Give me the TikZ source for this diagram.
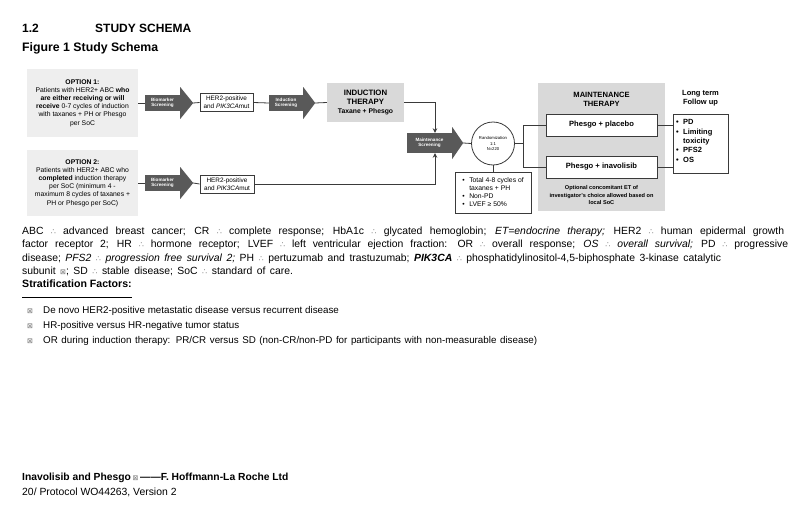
\documentclass[tikz,border=0pt]{standalone}
\usepackage{fontspec}
\setmainfont{Liberation Sans}
\newfontfamily\symf{DejaVu Sans}
\usetikzlibrary{calc,arrows.meta}
\definecolor{arrowgray}{HTML}{595959}
\definecolor{optgray}{HTML}{EEEEEE}
\definecolor{thergray}{HTML}{D9D9D9}
\definecolor{linegray}{HTML}{3A3A3A}
\newcommand{\eqs}{{\symf\fontsize{8}{8}\selectfont\textcolor{gray}{∴}}}
\newcommand{\bxg}{{\symf\fontsize{7}{8}\selectfont\textcolor{gray!90!black}{⊠}}}
\newcommand{\bul}{\makebox[7pt][l]{\textbullet}}
\newcommand{\bodyfnt}{\fontsize{10.4}{12}\selectfont\spaceskip 4.5pt plus 3pt minus 1pt\relax}
\tikzset{
  txt/.style={inner sep=0pt, anchor=base west},
  optbox/.style={fill=optgray, draw=none, align=center, inner sep=0pt,
     font=\fontsize{6.8}{8.2}\selectfont},
  arrbody/.style={fill=arrowgray, draw=none, text=white, align=center, inner sep=0pt,
     font=\bfseries\fontsize{4.6}{5.6}\selectfont},
  wbox/.style={fill=white, draw=linegray, line width=0.8pt, align=center, inner sep=0pt},
  conn/.style={draw=linegray, line width=0.8pt},
  tip/.style={-{Stealth[length=4.5pt,width=4.5pt]}},
  bodytxt/.style={txt, font=\bodyfnt}
}
\begin{document}
\begin{tikzpicture}[x=1pt,y=-1pt]
\useasboundingbox[fill=white] (0,0) rectangle (800,511);

% headings
\node[txt, font=\bfseries\fontsize{12}{14}\selectfont] (h1) at (22,33) {1.2};
\node[txt, font=\bfseries\fontsize{12}{14}\selectfont] (h2) at (95,33) {STUDY SCHEMA};
\node[txt, font=\bfseries\fontsize{12.3}{14}\selectfont] (h3) at (22,52) {Figure 1 Study Schema};

% option boxes
\node[optbox, minimum width=111, minimum height=68] (opt1) at (82.5,103)
  {\textbf{OPTION 1:}\\Patients with HER2+ ABC \textbf{who}\\\textbf{are either receiving or will}\\\textbf{receive} 0-7 cycles of induction\\with taxanes + PH or Phesgo\\per SoC};
\node[optbox, minimum width=111, minimum height=66] (opt2) at (82.5,183)
  {\textbf{OPTION 2:}\\Patients with HER2+ ABC who\\\textbf{completed} induction therapy\\per SoC (minimum 4 -\\maximum 8 cycles of taxanes +\\PH or Phesgo per SoC)};

% biomarker arrows
\node[arrbody, minimum width=35, minimum height=16] (bio1) at (162.5,103) {Biomarker\\Screening};
\fill[arrowgray] ($(bio1.east)+(0,-16)$) -- ($(bio1.east)+(13,0)$) -- ($(bio1.east)+(0,16)$) -- cycle;
\coordinate (bio1tip) at ($(bio1.east)+(13,0)$);
\node[arrbody, minimum width=35, minimum height=16] (bio2) at (162.5,183) {Biomarker\\Screening};
\fill[arrowgray] ($(bio2.east)+(0,-16)$) -- ($(bio2.east)+(13,0)$) -- ($(bio2.east)+(0,16)$) -- cycle;
\coordinate (bio2tip) at ($(bio2.east)+(13,0)$);

% HER2 boxes
\node[wbox, minimum width=53, minimum height=18, font=\fontsize{6.4}{7.6}\selectfont] (her1) at (226.5,102.5)
  {HER2-positive\\and \textit{PIK3CA}mut};
\node[wbox, minimum width=54, minimum height=18, font=\fontsize{6.4}{7.6}\selectfont] (her2) at (227,184)
  {HER2-positive\\and \textit{PIK3CA}mut};

% induction screening arrow
\node[arrbody, minimum width=34, minimum height=16] (isc) at (286,103) {Induction\\Screening};
\fill[arrowgray] ($(isc.east)+(0,-16)$) -- ($(isc.east)+(12,0)$) -- ($(isc.east)+(0,16)$) -- cycle;
\coordinate (isctip) at ($(isc.east)+(12,0)$);

% induction therapy
\node[fill=thergray, minimum width=77, minimum height=39, inner sep=0pt, align=center,
  font=\bfseries\fontsize{7.8}{9}\selectfont] (ind) at (365.5,102.5)
  {INDUCTION\\THERAPY\\\fontsize{6.8}{9}\selectfont Taxane + Phesgo};

% maintenance screening arrow
\node[arrbody, minimum width=45, minimum height=20] (msc) at (429.5,143) {Maintenance\\Screening};
\fill[arrowgray] ($(msc.east)+(0,-16)$) -- ($(msc.east)+(11,0)$) -- ($(msc.east)+(0,16)$) -- cycle;
\coordinate (msctip) at ($(msc.east)+(11,0)$);

% randomization
\node[circle, draw=linegray, line width=0.8pt, fill=white, minimum size=43, inner sep=0pt, align=center,
  font=\fontsize{4.2}{5.2}\selectfont] (rnd) at (493,143.5) {Randomization\\1:1\\N=220};

% criteria box
\node[wbox, minimum width=76, minimum height=41, align=left, font=\fontsize{6.8}{8}\selectfont] (crit) at (493,192.5)
  {\bul Total 4-8 cycles of\\\hspace*{7pt}taxanes + PH\\\bul Non-PD\\\bul LVEF ≥ 50\%};

% maintenance panel
\node[fill=thergray, minimum width=127, minimum height=128, inner sep=0pt] (mpan) at (601.5,147) {};
\node[inner sep=0pt, align=center, font=\bfseries\fontsize{7.6}{9}\selectfont] (mtit) at (601.5,99.5) {MAINTENANCE\\THERAPY};
\node[wbox, minimum width=111, minimum height=22, font=\bfseries\fontsize{7.6}{9}\selectfont] (plac) at (601.5,125) {Phesgo + placebo};
\node[wbox, minimum width=111, minimum height=22, font=\bfseries\fontsize{7.6}{9}\selectfont] (inav) at (601.5,167) {Phesgo + inavolisib};
\node[inner sep=0pt, align=center, font=\bfseries\fontsize{5.6}{7.2}\selectfont] (optet) at (601.5,195)
  {Optional concomitant ET of\\investigator's choice allowed based on\\local SoC};

% follow-up
\node[inner sep=0pt, align=center, font=\bfseries\fontsize{7.5}{9.3}\selectfont] (ltit) at (700.5,98.5) {Long term\\Follow up};
\node[wbox, minimum width=55, minimum height=59] (fu) at (700.5,143.5) {};
\node[inner sep=0pt, anchor=north west, align=left, font=\bfseries\fontsize{7.5}{9.3}\selectfont] (fulist) at (676,119.5)
  {\bul PD\\\bul Limiting\\\hspace*{7pt}toxicity\\\bul PFS2\\\bul OS};

% connectors
\draw[conn] (opt1.east) -- (bio1.west);
\draw[conn] (opt2.east) -- (bio2.west);
\draw[conn] (bio1tip) -- (her1.west);
\draw[conn] (her1.east) -- (isc.west);
\draw[conn] (isctip) -- (ind.west);
\draw[conn, tip] (ind.east) -| ($(msc.north)+(5.5,0)$);
\draw[conn, tip] (her2.east) -| ($(msc.south)+(5.5,0)$);
\draw[conn] (bio2tip) -- (her2.west);
\draw[conn] (msctip) -- (rnd.west);
\draw[conn] (rnd.south) -- (crit.north);
\draw[conn] (rnd.east) -- ++(8,0) coordinate (br);
\draw[conn] (br) |- (plac.west);
\draw[conn] (br) |- (inav.west);
\draw[conn] (plac.east) -- (plac.east -| fu.west);
\draw[conn] (inav.east) -- (inav.east -| fu.west);

% abbreviations
\node[bodytxt] (l1) at (22,234) {\makebox[762pt][s]{ABC \eqs{} advanced breast cancer; CR \eqs{} complete response; HbA1c \eqs{} glycated hemoglobin; \textit{ET=endocrine therapy;} HER2 \eqs{} human epidermal growth}};
\node[bodytxt] (l2) at (22,247.5) {\makebox[766pt][s]{factor receptor 2; HR \eqs{} hormone receptor; LVEF \eqs{} left ventricular ejection fraction: OR \eqs{} overall response; \textit{OS \eqs{} overall survival;} PD \eqs{} progressive}};
\node[bodytxt] (l3) at (22,261) {disease; \textit{PFS2 \eqs{} progression free survival 2;} PH \eqs{} pertuzumab and trastuzumab; \textbf{\textit{PIK3CA}} \eqs{} phosphatidylinositol-4,5-biphosphate 3-kinase catalytic};
\node[bodytxt] (l4) at (22,274) {subunit \bxg; SD \eqs{} stable disease; SoC \eqs{} standard of care.};
\node[txt, font=\bfseries\fontsize{10.6}{12}\selectfont] (strat) at (22,287) {Stratification Factors:};
\draw[line width=0.9pt, black] (22,297) -- (132,297);

\node[txt] (b1) at (27,313) {\bxg};
\node[txt, font=\fontsize{9.8}{12}\selectfont] (s1) at (43,313) {De novo HER2-positive metastatic disease versus recurrent disease};
\node[txt] (b2) at (27,328) {\bxg};
\node[txt, font=\fontsize{9.8}{12}\selectfont] (s2) at (43,328) {HR-positive versus HR-negative tumor status};
\node[txt] (b3) at (27,343) {\bxg};
\node[txt, font=\fontsize{9.8}{12}\selectfont] (s3) at (43,343) {\makebox[494pt][s]{OR during induction therapy: PR/CR versus SD (non-CR/non-PD for participants with non-measurable disease)}};

% footer
\node[txt, font=\bfseries\fontsize{10.3}{12}\selectfont] (f1) at (22,480) {Inavolisib and Phesgo\,{\mdseries\bxg}\,——F. Hoffmann-La Roche Ltd};
\node[txt, font=\fontsize{10.4}{12}\selectfont] (f2) at (22,495) {20/ Protocol WO44263, Version 2};
\end{tikzpicture}
\end{document}
